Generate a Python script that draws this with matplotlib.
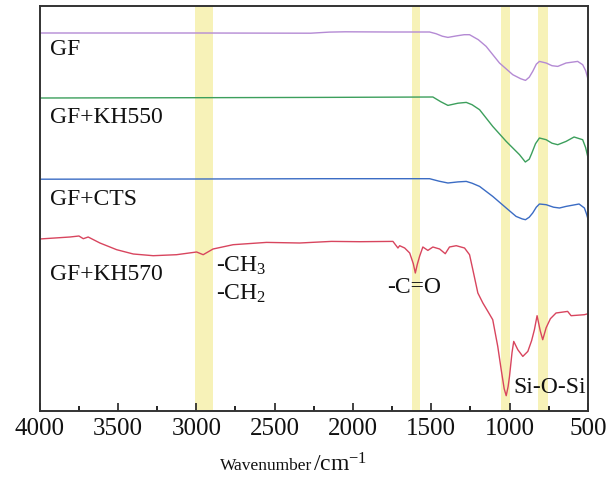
import matplotlib
matplotlib.use("Agg")
import matplotlib.pyplot as plt
from matplotlib.ticker import MultipleLocator

plt.rcParams['font.family'] = ['Liberation Serif', 'DejaVu Serif']
plt.rcParams['mathtext.default'] = 'regular'

# ---- data (wavenumber cm-1, offset intensity in arbitrary units) ----
gf_wn = [4000, 3000, 2270, 2150, 2050, 1770, 1511, 1470, 1430, 1394, 1340, 1290, 1256, 1200, 1150, 1065, 980, 930, 899, 875, 853, 830, 810, 767, 730, 693, 640, 566, 534, 515, 502, 500]
gf_v = [377.7, 377.7, 377.5, 378.6, 378.9, 378.7, 378.7, 377.0, 374.5, 373.3, 374.8, 376.0, 376.0, 371.0, 364.3, 347.7, 336.0, 332.0, 330.3, 333.5, 339.3, 346.5, 349.3, 347.7, 345.0, 344.3, 347.7, 349.3, 346.0, 340.0, 332.7, 331.0]

kh550_wn = [4000, 3000, 2200, 1490, 1440, 1394, 1330, 1277, 1240, 1192, 1108, 1022, 937, 900, 875, 860, 835, 810, 767, 730, 693, 640, 589, 534, 515, 502, 500]
kh550_v = [312.7, 313.0, 313.3, 313.7, 309.0, 305.3, 307.5, 308.3, 306.0, 301.0, 284.3, 269.3, 256.0, 248.7, 251.5, 257.0, 267.0, 272.7, 271.0, 267.5, 266.0, 269.3, 273.7, 271.0, 263.0, 254.3, 252.0]

cts_wn = [4000, 3000, 2200, 1511, 1450, 1394, 1330, 1277, 1240, 1192, 1108, 1022, 959, 920, 899, 875, 853, 830, 810, 767, 720, 682, 640, 557, 523, 510, 502, 500]
cts_v = [231.5, 231.7, 232.0, 232.0, 229.5, 227.7, 228.8, 229.3, 227.5, 224.3, 214.3, 202.7, 194.3, 191.8, 191.0, 193.5, 197.7, 203.5, 206.7, 206.0, 203.5, 202.7, 204.3, 206.7, 202.7, 197.0, 192.7, 191.5]

kh570_wn = [4000, 3806, 3749, 3721, 3690, 3615, 3508, 3402, 3275, 3126, 2998, 2956, 2893, 2765, 2552, 2340, 2138, 1957,
            1745, 1713, 1702, 1670, 1638, 1615, 1602, 1590, 1575, 1554, 1522, 1490, 1447, 1411, 1384, 1341, 1288, 1256, 1235, 1203,
            1171, 1139, 1108, 1076, 1054, 1035, 1022, 1010, 1001, 985, 974, 948, 916, 884, 860, 842, 825, 805, 789, 767, 740, 704, 630, 608, 523, 500]
kh570_v = [171.7, 173.7, 174.7, 172.0, 173.7, 167.7, 161.0, 156.7, 155.0, 156.0, 158.7, 156.0, 161.7, 166.0, 168.3, 167.7, 169.3, 169.0,
           169.3, 162.7, 165.0, 162.7, 157.7, 147.0, 137.7, 146.0, 154.3, 163.7, 160.3, 163.7, 161.7, 157.0, 163.7, 165.0, 162.7, 156.0, 141.0, 117.7,
           107.7, 99.3, 91.0, 64.3, 41.0, 22.0, 15.0, 24.0, 34.3, 58.0, 69.3, 61.0, 54.3, 59.3, 70.0, 81.0, 95.0, 80.0, 71.0, 83.0, 92.0, 97.7, 99.3, 95.0, 96.0, 97.0]

bands = [(3010, 2895), (1624, 1570), (1054, 1001), (816, 757)]

series = [
    ("GF", gf_wn, gf_v, '#b48ad4'),
    ("GF+KH550", kh550_wn, kh550_v, '#3c9f5c'),
    ("GF+CTS", cts_wn, cts_v, '#3b6cc4'),
    ("GF+KH570", kh570_wn, kh570_v, '#d8455e'),
]

xticks = [4000, 3500, 3000, 2500, 2000, 1500, 1000, 500]

fig = plt.figure(figsize=(6.10, 4.79), dpi=100)
ax = fig.add_axes([39.6 / 610, 1 - 410.7 / 479, (588 - 39.6) / 610, (410.7 - 6) / 479])

for lo, hi in bands:
    ax.axvspan(hi, lo, color='#f7f2b8', lw=0, zorder=0)

for name, wn, v, c in series:
    ax.plot(wn, v, color=c, lw=1.0, zorder=2)

ax.set_xlim(4000, 500)
ax.set_ylim(0, 404.7)
ax.set_xticks(xticks)
ax.set_xticklabels([str(t) for t in xticks])
ax.xaxis.set_minor_locator(MultipleLocator(250))
ax.set_yticks([])
ax.tick_params(axis='x', which='major', direction='in', length=6, width=1.2, labelsize=18, pad=5, colors='#222222')
ax.tick_params(axis='x', which='minor', direction='in', length=3.5, width=1.2)
ax.tick_params(axis='x', labelcolor='#111111')
for s in ax.spines.values():
    s.set_color('#333333')
    s.set_linewidth(1.4)

def px(xp, yp):
    return (xp / 610, 1 - yp / 479)

fs = 17
ax.text(*px(50, 55), "GF", transform=fig.transFigure, fontsize=fs, color='#111111')
ax.text(*px(50, 123), "GF+KH550", transform=fig.transFigure, fontsize=fs, color='#111111')
ax.text(*px(50, 205), "GF+CTS", transform=fig.transFigure, fontsize=fs, color='#111111')
ax.text(*px(50, 280), "GF+KH570", transform=fig.transFigure, fontsize=fs, color='#111111')
ax.text(*px(216, 272), "-CH$_3$", transform=fig.transFigure, fontsize=fs, color='#111111')
ax.text(*px(216, 300), "-CH$_2$", transform=fig.transFigure, fontsize=fs, color='#111111')
ax.text(*px(387, 293), "-C=O", transform=fig.transFigure, fontsize=fs, color='#111111')
ax.text(*px(513, 393), "Si-O-Si", transform=fig.transFigure, fontsize=fs, color='#111111')

fig.text(*px(312, 470), "Wavenumber", fontsize=12.5, ha='right', va='baseline', color='#111111')
fig.text(*px(313, 471), "/cm$^{-1}$", fontsize=17, ha='left', va='baseline', color='#111111')

fig.savefig("out.png", dpi=100)
